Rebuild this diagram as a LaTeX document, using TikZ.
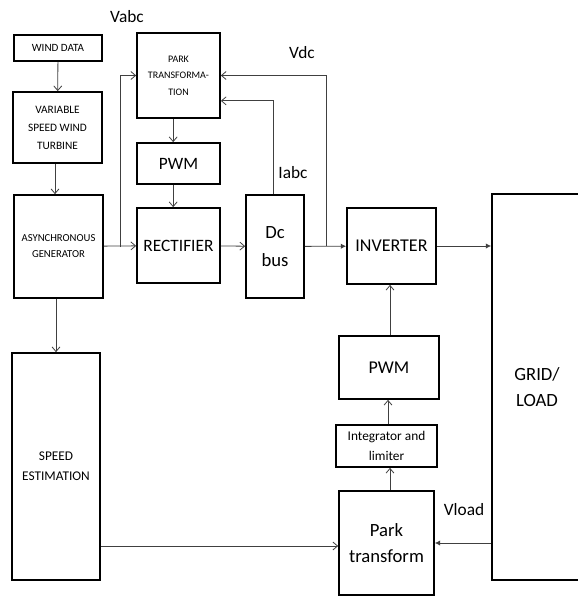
\documentclass[tikz,border=0pt]{standalone}
\usepackage{fontspec}
\setmainfont{Carlito}
\usetikzlibrary{arrows.meta, positioning}
\tikzset{
  box/.style={rectangle, draw, line width=1.3pt, align=center, inner sep=1pt},
  conn/.style={draw=black!75, line width=0.6pt, -{Straight Barb[length=3.5pt, width=6pt]}},
  fconn/.style={draw=black!75, line width=0.6pt, -{Latex[length=4pt, width=4pt]}},
  wire/.style={draw=black!75, line width=0.6pt},
  siglabel/.style={font=\fontsize{13}{15}\selectfont},
}

\begin{document}
\begin{tikzpicture}[x=0.75pt, y=-0.75pt]
  \useasboundingbox (0,0) rectangle (578,597);
  \clip (0,0) rectangle (578,597);

  \node[box, minimum width=66pt, minimum height=19.5pt, font=\fontsize{8.3}{10}\selectfont]
    (wind) at (58,48) {WIND DATA};
  \node[box, minimum width=66.75pt, minimum height=53.25pt, font=\fontsize{8.5}{13.5}\selectfont]
    (turbine) at (57.5,127.5) {VARIABLE\\SPEED WIND\\TURBINE};
  \node[box, minimum width=66.75pt, minimum height=77.25pt, font=\fontsize{8}{12}\selectfont]
    (asyncgen) at (58.5,246.5) {ASYNCHRONOUS\\GENERATOR};
  \node[box, minimum width=62.25pt, minimum height=63.75pt, font=\fontsize{7.5}{12.5}\selectfont]
    (parktr) at (178.5,75.5) {PARK\\TRANSFORMA-\\TION};
  \node[box, minimum width=62.25pt, minimum height=30.75pt, font=\fontsize{13}{15}\selectfont]
    (pwmr) at (178.5,163.5) {PWM};
  \node[box, minimum width=62.25pt, minimum height=56.25pt, font=\fontsize{13}{15}\selectfont]
    (rect) at (178.5,245.5) {RECTIFIER};
  \node[box, minimum width=43.5pt, minimum height=77.25pt, font=\fontsize{14}{21}\selectfont]
    (dcbus) at (275,246.5) {Dc\\bus};
  \node[box, minimum width=66.75pt, minimum height=57pt, font=\fontsize{13.5}{15}\selectfont]
    (inv) at (391.5,246) {INVERTER};
  \node[box, minimum width=67.5pt, minimum height=289.5pt, font=\fontsize{14}{20}\selectfont]
    (grid) at (537,387) {GRID/\\LOAD};
  \node[box, minimum width=66pt, minimum height=170.25pt, font=\fontsize{10}{15}\selectfont]
    (speed) at (56,466.5) {SPEED\\ESTIMATION};
  \node[box, minimum width=75pt, minimum height=47.25pt, font=\fontsize{13.5}{15}\selectfont]
    (pwmi) at (389,367.5) {PWM};
  \node[box, minimum width=75.75pt, minimum height=31.5pt, font=\fontsize{10}{15}\selectfont]
    (integ) at (386.5,446) {Integrator and\\limiter};
  \node[box, minimum width=71.25pt, minimum height=78pt, font=\fontsize{14}{20}\selectfont]
    (parkload) at (386.5,543) {Park\\transform};

  \node[siglabel] (vabc) at (127,17) {Vabc};
  \node[siglabel] (vdc) at (302,53) {Vdc};
  \node[siglabel] (iabc) at (293,173) {Iabc};
  \node[siglabel] (vload) at (464,510) {Vload};

  \coordinate (gtap) at (120,247);
  \coordinate (vtap) at (326,246);
  \coordinate (spin) at ([yshift=-2.25pt]parkload.west);

  \draw[conn] (wind) -- (turbine);
  \draw[conn] (turbine.south -| 55,0) -- (asyncgen.north -| 55,0);
  \draw[conn] (asyncgen) -- (rect);
  \draw[conn] (gtap) |- (parktr.west);
  \draw[conn] ([xshift=-4pt]parktr.south) -- ([xshift=-4pt]pwmr.north);
  \draw[conn] ([xshift=-4pt]pwmr.south) -- ([xshift=-4pt]rect.north);
  \draw[conn] (rect) -- (dcbus);
  \draw[conn] ([xshift=-1.5pt]dcbus.north) |- ([yshift=-19pt]parktr.east);
  \draw[conn] (vtap) |- (parktr.east);
  \draw[fconn] (dcbus) -- (inv);
  \draw[fconn] (inv) -- (inv -| grid.west);
  \draw[conn] (speed.north |- asyncgen.south) -- (speed.north);
  \draw[conn] (spin -| speed.east) -- (spin);
  \draw[fconn] (parkload.east -| grid.west) -- (parkload.east);
  \draw[conn] (parkload.north -| 390,0) -- (integ.south -| 390,0);
  \draw[conn] (integ.north -| 388,0) -- (pwmi.south -| 388,0);
  \draw[conn] (pwmi.north -| 390,0) -- (inv.south -| 390,0);

\end{tikzpicture}
\end{document}
